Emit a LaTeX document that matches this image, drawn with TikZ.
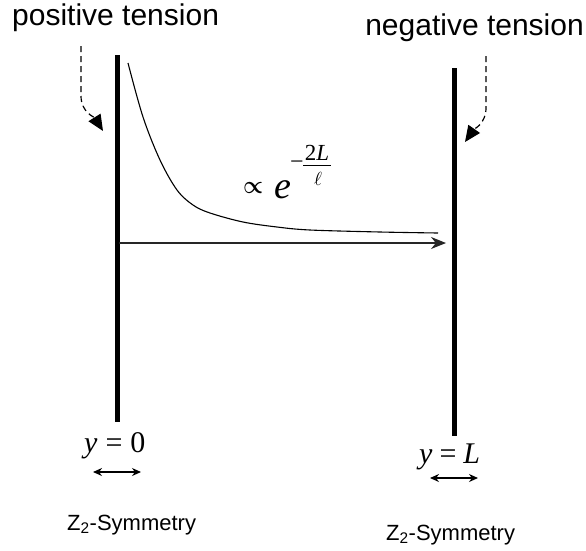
\documentclass[tikz,border=0pt]{standalone}
\usepackage{fontspec}
\usepackage{graphicx}
\setmainfont{Liberation Sans}
\newfontfamily\tms{Liberation Serif}
\usetikzlibrary{arrows.meta}
\begin{document}
\begin{tikzpicture}[x=1pt,y=-1pt,
  brane/.style={line width=5pt},
  lbl/.style={inner sep=0pt, font=\fontsize{30}{30}\selectfont},
  sym/.style={inner sep=0pt, font=\fontsize{22}{22}\selectfont},
  mth/.style={inner sep=0pt, font=\fontsize{30}{30}\selectfont\tms},
  dasharrow/.style={line width=1.2pt, dash pattern=on 6pt off 4pt, -{Triangle[length=16pt,width=14pt]}},
  twoway/.style={line width=1.3pt, {Stealth[length=9pt,width=8pt]}-{Stealth[length=9pt,width=8pt]}},
  mainarrow/.style={line width=1.2pt, draw=black!85, -{Stealth[length=15pt,width=12pt]}}]
\useasboundingbox (0,0) rectangle (586,550);
% branes
\coordinate (lt) at (117,55);
\coordinate (lb) at (117,422);
\coordinate (rt) at (454,68);
\coordinate (rb) at (454,436);
\draw[brane] (lt) -- (lb);
\draw[brane] (rt) -- (rb);
% labels
\node[lbl, anchor=base west] (pos) at (12,25) {positive tension};
\node[lbl, anchor=base east] (neg) at (584,35) {negative tension};
% dashed arrows
\coordinate (d1s) at (81,46);
\coordinate (d1t) at (103,131);
\coordinate (d2s) at (486,56);
\coordinate (d2t) at (465,142);
\draw[dasharrow] (d1s) -- ++(0,50) to[out=-90,in=122] (d1t);
\draw[dasharrow] (d2s) -- ++(0,52) to[out=-90,in=55] (d2t);
% warp factor curve
\draw[line width=1.1pt] plot[smooth, tension=0.55] coordinates {(128,63) (143,117) (160,160) (177,190) (193,205) (210,213) (243,222) (277,227) (310,230) (380,232) (438,233)};
% main arrow
\coordinate (a0) at (119,243);
\coordinate (a1) at (446,243);
\draw[mainarrow] (a0) -- (a1);
% formula
\node[inner sep=0pt] (prop) at (253,188) {\resizebox{20pt}{11pt}{\boldmath$\propto$}};
\node[inner sep=0pt, anchor=base, font=\fontsize{38}{38}\selectfont\tms\itshape] (e) at (283,198) {e};
\node[inner sep=0pt, font=\fontsize{24}{24}\selectfont\tms] (minus) at (297,165) {−};
\coordinate (fb0) at (303,165);
\coordinate (fb1) at (331,165);
\draw[line width=0.9pt] (fb0) -- (fb1);
\node[inner sep=0pt, anchor=base, font=\fontsize{23}{23}\selectfont\tms] (num) at (317,160) {2\textit{L}};
\node[inner sep=0pt, anchor=base] (den) at (318,185) {\scalebox{1.9}{$\ell$}};
% y positions
\node[mth, anchor=base west] (y0) at (84,452) {\textit{y}\hspace{8pt}=\hspace{8pt}0};
\node[mth, anchor=base west] (yL) at (419,463) {\textit{y}\hspace{7pt}=\hspace{7pt}\textit{L}};
% two-way arrows
\coordinate (s1a) at (93,472);
\coordinate (s1b) at (141,472);
\coordinate (s2a) at (430,478);
\coordinate (s2b) at (478,478);
\draw[twoway] (s1a) -- (s1b);
\draw[twoway] (s2a) -- (s2b);
% symmetry labels
\node[sym, anchor=base west] (z1) at (67,530) {Z\textsubscript{2}-Symmetry};
\node[sym, anchor=base west] (z2) at (386,540) {Z\textsubscript{2}-Symmetry};
\end{tikzpicture}
\end{document}
